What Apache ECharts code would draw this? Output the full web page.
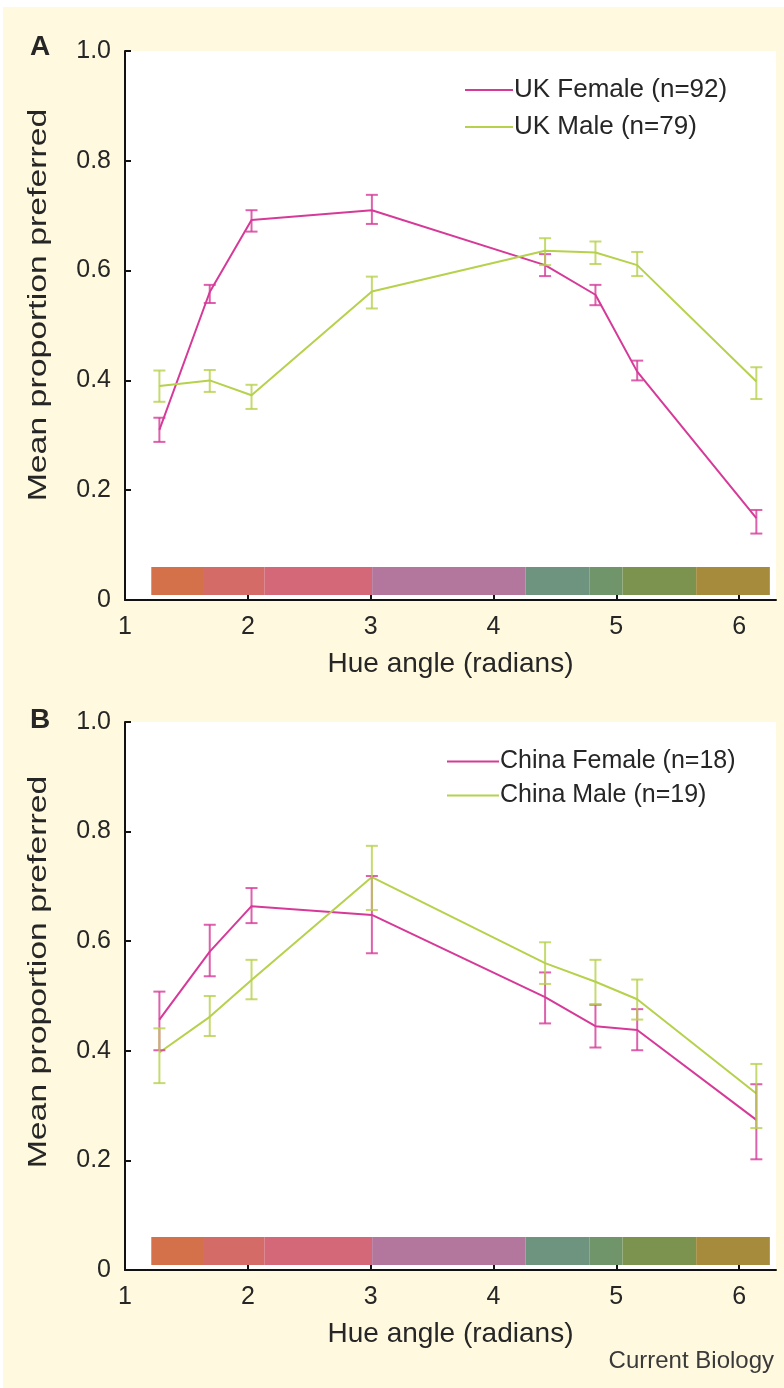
<!DOCTYPE html>
<html>
<head>
<meta charset="utf-8">
<script src="https://cdn.jsdelivr.net/npm/echarts@6/dist/echarts.min.js"></script>
<style>
  html, body { margin: 0; padding: 0; background: #fffadf; }
  #chart { width: 784px; height: 1388px; }
</style>
</head>
<body>
<div id="chart"></div>
<script>
// hue angles of the tested colours (radians)
const hueAngles = [1.28, 1.69, 2.03, 3.01, 4.42, 4.83, 5.17, 6.14];

// panel A: UK
const ukFemaleMean = [0.31, 0.561, 0.692, 0.710, 0.610, 0.556, 0.416, 0.149];
const ukFemaleLow  = [0.288, 0.541, 0.671, 0.685, 0.590, 0.537, 0.400, 0.121];
const ukFemaleHigh = [0.332, 0.574, 0.710, 0.738, 0.630, 0.574, 0.436, 0.164];
const ukMaleMean = [0.390, 0.400, 0.373, 0.562, 0.636, 0.633, 0.610, 0.398];
const ukMaleLow  = [0.361, 0.379, 0.348, 0.531, 0.610, 0.612, 0.590, 0.366];
const ukMaleHigh = [0.418, 0.419, 0.392, 0.589, 0.659, 0.653, 0.634, 0.424];

// panel B: China
const cnFemaleMean = [0.457, 0.581, 0.664, 0.648, 0.498, 0.445, 0.438, 0.274];
const cnFemaleLow  = [0.401, 0.536, 0.633, 0.578, 0.450, 0.406, 0.401, 0.202];
const cnFemaleHigh = [0.508, 0.630, 0.697, 0.719, 0.543, 0.484, 0.476, 0.339];
const cnMaleMean = [0.397, 0.462, 0.529, 0.717, 0.560, 0.526, 0.494, 0.322];
const cnMaleLow  = [0.341, 0.427, 0.494, 0.657, 0.522, 0.485, 0.457, 0.259];
const cnMaleHigh = [0.441, 0.500, 0.566, 0.774, 0.598, 0.566, 0.530, 0.376];

// colour strip along the hue axis
const hueEdges = [1.214, 1.643, 2.134, 3.012, 4.26, 4.78, 5.05, 5.65, 6.25];
const hueColors = ['#d4704a', '#d46b67', '#d46878', '#b3779e', '#6e937e', '#71956a', '#7c934f', '#a68b3c'];

const xTicks = [1, 2, 3, 4, 5, 6];

const namesA = ['UK Female (n=92)', 'UK Male (n=79)'];
const namesB = ['China Female (n=18)', 'China Male (n=19)'];
const yTitle = 'Mean proportion preferred';

const FEMALE = '#d63a98';
const MALE = '#b6d14c';
const FONT = 'Liberation Sans, Arial, sans-serif';
const TXT = '#262626';
const STRIP_LOW = 0.009, STRIP_HIGH = 0.06;

function pairs(xs, ys) {
  return xs.map((x, i) => [x, ys[i]]);
}
function errData(xs, lo, hi) {
  return xs.map((x, i) => [x, lo[i], hi[i]]);
}

function errorBarItem(color) {
  return function (params, api) {
    const top = api.coord([api.value(0), api.value(2)]);
    const bot = api.coord([api.value(0), api.value(1)]);
    const hw = 6;
    const style = { stroke: color, lineWidth: 2, opacity: 0.8 };
    return {
      type: 'group',
      children: [
        { type: 'line', shape: { x1: top[0], y1: top[1], x2: bot[0], y2: bot[1] }, style: style },
        { type: 'line', shape: { x1: top[0] - hw, y1: top[1], x2: top[0] + hw, y2: top[1] }, style: style },
        { type: 'line', shape: { x1: bot[0] - hw, y1: bot[1], x2: bot[0] + hw, y2: bot[1] }, style: style }
      ]
    };
  };
}

function stripItem(params, api) {
  const p0 = api.coord([api.value(0), STRIP_HIGH]);
  const p1 = api.coord([api.value(1), STRIP_LOW]);
  return {
    type: 'rect',
    shape: { x: p0[0], y: p0[1], width: p1[0] - p0[0], height: p1[1] - p0[1] },
    style: { fill: hueColors[api.value(2)] }
  };
}

const stripData = hueColors.map((c, i) => [hueEdges[i], hueEdges[i + 1], i]);

function xAxisCfg(idx) {
  return {
    type: 'value', gridIndex: idx, min: 1, max: 6.3,
    name: 'Hue angle (radians)', nameLocation: 'middle', nameGap: 50,
    nameTextStyle: { fontFamily: FONT, fontSize: 28, color: TXT },
    axisLine: { lineStyle: { color: '#111', width: 2 } },
    axisTick: { inside: true, length: 6, customValues: xTicks, lineStyle: { color: '#111', width: 2 } },
    axisLabel: { customValues: xTicks, margin: 15, fontFamily: FONT, fontSize: 25, color: TXT },
    splitLine: { show: false }
  };
}
function yAxisCfg(idx) {
  return {
    type: 'value', gridIndex: idx, min: 0, max: 1, interval: 0.2,
    axisLine: { show: true, lineStyle: { color: '#111', width: 2 } },
    axisTick: { show: true, inside: true, length: 6, lineStyle: { color: '#111', width: 2 } },
    axisLabel: {
      margin: 14, fontFamily: FONT, fontSize: 25, color: TXT,
      formatter: v => (v === 0 ? '0' : v.toFixed(1))
    },
    splitLine: { show: false }
  };
}
function legendCfg(names, left, top, lineW, gap, size) {
  return {
    data: names, left: left, top: top, orient: 'vertical',
    icon: 'rect', itemWidth: lineW, itemHeight: 2, itemGap: gap,
    textStyle: { fontFamily: FONT, fontSize: size, color: TXT, padding: [0, 0, 0, -4] }
  };
}
function yTitleText(cy) {
  return {
    type: 'text', x: 39, y: cy, rotation: Math.PI / 2, scaleX: 1.3,
    style: { text: yTitle, font: '26px ' + FONT, fill: TXT, align: 'center', verticalAlign: 'middle' }
  };
}
function lineSeries(name, idx, xs, ys, color) {
  return {
    name: name, type: 'line', xAxisIndex: idx, yAxisIndex: idx,
    data: pairs(xs, ys), showSymbol: false, symbol: 'none',
    lineStyle: { color: color, width: 2 }, itemStyle: { color: color }, z: 3
  };
}
function errSeries(idx, lo, hi, color) {
  return {
    type: 'custom', xAxisIndex: idx, yAxisIndex: idx,
    data: errData(hueAngles, lo, hi), renderItem: errorBarItem(color), z: 4
  };
}

const chart = echarts.init(document.getElementById('chart'));
chart.setOption({
  backgroundColor: '#fffadf',
  animation: false,
  grid: [
    { left: 125, right: 8, top: 51, height: 549, backgroundColor: '#fff', show: true, borderWidth: 0 },
    { left: 125, right: 8, top: 722, height: 548, backgroundColor: '#fff', show: true, borderWidth: 0 }
  ],
  xAxis: [xAxisCfg(0), xAxisCfg(1)],
  yAxis: [yAxisCfg(0), yAxisCfg(1)],
  legend: [legendCfg(namesA, 460, 72, 48, 11, 26), legendCfg(namesB, 442, 744, 52, 9, 25)],
  graphic: [
    { type: 'rect', shape: { x: 0, y: 0, width: 784, height: 7 }, style: { fill: '#fff' } },
    { type: 'rect', shape: { x: 0, y: 0, width: 3, height: 1388 }, style: { fill: '#fff' } },
    { type: 'text', left: 30, top: 33, style: { text: 'A', font: 'bold 28px ' + FONT, fill: TXT } },
    { type: 'text', left: 30, top: 706, style: { text: 'B', font: 'bold 28px ' + FONT, fill: TXT } },
    yTitleText(305),
    yTitleText(972),
    { type: 'text', right: 10, top: 1349, style: { text: 'Current Biology', font: '24px ' + FONT, fill: '#3a3a3a' } }
  ],
  series: [
    { type: 'custom', xAxisIndex: 0, yAxisIndex: 0, data: stripData, renderItem: stripItem, z: 1 },
    { type: 'custom', xAxisIndex: 1, yAxisIndex: 1, data: stripData, renderItem: stripItem, z: 1 },
    lineSeries(namesA[0], 0, hueAngles, ukFemaleMean, FEMALE),
    lineSeries(namesA[1], 0, hueAngles, ukMaleMean, MALE),
    errSeries(0, ukFemaleLow, ukFemaleHigh, FEMALE),
    errSeries(0, ukMaleLow, ukMaleHigh, MALE),
    lineSeries(namesB[0], 1, hueAngles, cnFemaleMean, FEMALE),
    lineSeries(namesB[1], 1, hueAngles, cnMaleMean, MALE),
    errSeries(1, cnFemaleLow, cnFemaleHigh, FEMALE),
    errSeries(1, cnMaleLow, cnMaleHigh, MALE)
  ]
});
window.addEventListener('resize', function () {
  chart.resize();
});
</script>
</body>
</html>
